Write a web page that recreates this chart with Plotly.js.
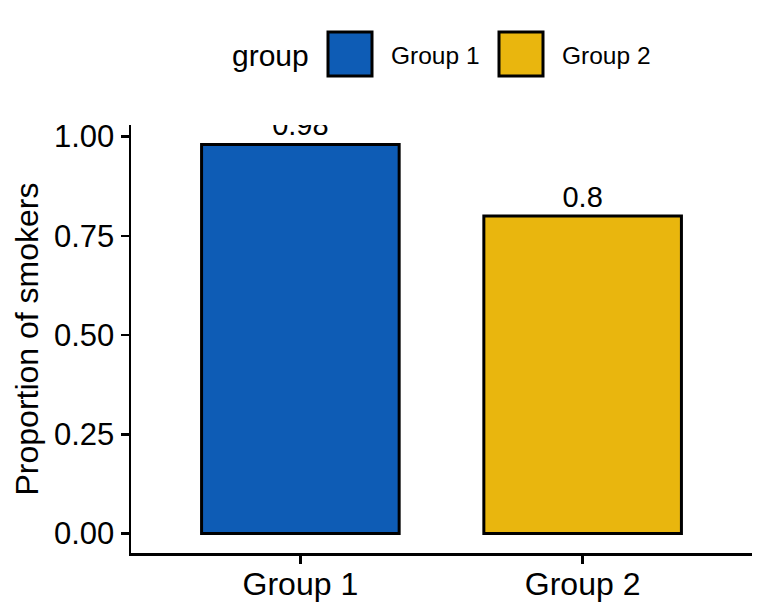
<!DOCTYPE html>
<html>
<head>
<meta charset="utf-8">
<script src="https://cdn.plot.ly/plotly-3.0.1.min.js"></script>
<style>
  html, body { margin: 0; padding: 0; background: #ffffff; }
  #chart { width: 768px; height: 614px; }
</style>
</head>
<body>
<div id="chart"></div>
<script>
// Proportion of smokers per group
const groups = ["Group 1", "Group 2"];
const proportions = [0.98, 0.8];
const groupColors = ["#0E5CB5", "#E9B60E"];
const yTickValues = [0, 0.25, 0.5, 0.75, 1];
const legendTitle = "group";

const W = 768, H = 614;
const M = { l: 131, r: 16, t: 125, b: 61 };
const plotW = W - M.l - M.r, plotH = H - M.t - M.b;
const FONT = "Liberation Sans, Arial, Helvetica, sans-serif";

// pixel position -> paper coordinates (for the legend drawn by hand)
const px = x => (x - M.l) / plotW;
const py = y => (H - M.b - y) / plotH;

const trace = {
  type: "bar",
  x: groups,
  y: proportions,
  width: 0.7,
  marker: { color: groupColors, line: { color: "#000000", width: 3 } },
  text: proportions.map(v => String(v)),
  texttemplate: "%{text}",
  textposition: "outside",
  constraintext: "none",
  cliponaxis: true,
  textfont: { family: FONT, size: 29, color: "#000000" },
  hoverinfo: "x+y",
  showlegend: false
};

// hand-built legend: title, square keys and labels
const keyX = [328, 499];
const labelX = [390, 561];
const shapes = groups.map((g, i) => ({
  type: "rect", xref: "paper", yref: "paper",
  x0: px(keyX[i]), x1: px(keyX[i] + 44),
  y0: py(76), y1: py(32),
  fillcolor: groupColors[i],
  line: { color: "#000000", width: 3 }
}));
const annotations = [
  {
    xref: "paper", yref: "paper", x: px(270), y: py(56),
    xanchor: "center", yanchor: "middle", showarrow: false,
    text: legendTitle, font: { family: FONT, size: 30, color: "#000000" }
  }
].concat(groups.map((g, i) => ({
  xref: "paper", yref: "paper", x: px(labelX[i] - 1), y: py(55),
  xanchor: "left", yanchor: "middle", showarrow: false,
  text: g, font: { family: FONT, size: 24.5, color: "#000000" }
})));

const layout = {
  width: W, height: H,
  margin: M,
  paper_bgcolor: "#ffffff",
  plot_bgcolor: "#ffffff",
  showlegend: false,
  xaxis: {
    type: "category",
    range: [-0.6, 1.6],
    showgrid: false, zeroline: false,
    showline: true, linecolor: "#000000", linewidth: 2.5,
    ticks: "outside", ticklen: 8, tickwidth: 2.5, tickcolor: "#000000",
    ticklabelstandoff: -7,
    tickfont: { family: FONT, size: 32, color: "#000000" },
    fixedrange: true
  },
  yaxis: {
    range: [-0.049, 1.029],
    tickvals: yTickValues,
    tickformat: ".2f",
    showgrid: false, zeroline: false,
    showline: true, linecolor: "#000000", linewidth: 2.5,
    ticks: "outside", ticklen: 8, tickwidth: 2.5, tickcolor: "#000000",
    tickfont: { family: FONT, size: 31, color: "#000000" },
    title: { text: "Proportion of smokers", font: { family: FONT, size: 32, color: "#000000" }, standoff: 6 },
    fixedrange: true
  },
  shapes: shapes,
  annotations: annotations
};

Plotly.newPlot("chart", [trace], layout, { displayModeBar: false, staticPlot: true });
</script>
</body>
</html>
